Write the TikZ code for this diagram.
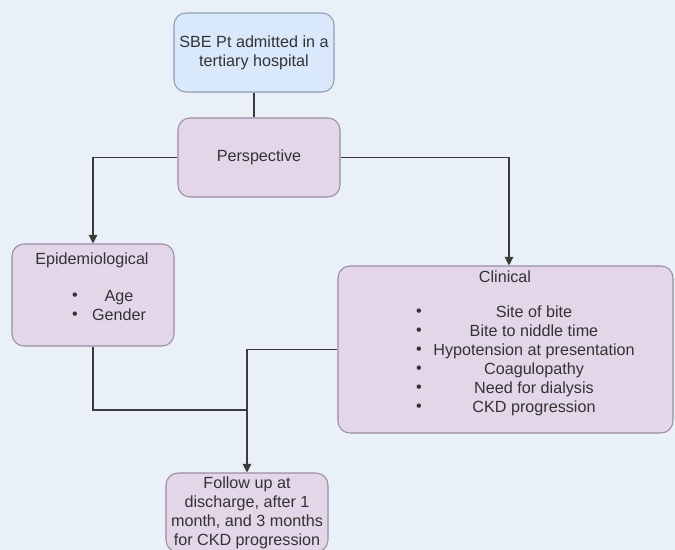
\documentclass[tikz,border=0pt]{standalone}
\usepackage{fontspec}
\setmainfont{Liberation Sans}
\usetikzlibrary{positioning, arrows.meta}

\definecolor{bgblue}{HTML}{E9F0F8}
\definecolor{boxblue}{HTML}{DAE8FC}
\definecolor{edgeblue}{HTML}{8E9DB2}
\definecolor{boxpink}{HTML}{E2D6E8}
\definecolor{edgepink}{HTML}{9C8CA4}
\definecolor{wire}{HTML}{3C3C3C}

\tikzset{
  box/.style={rectangle, rounded corners=2.4mm, draw=edgepink, fill=boxpink,
    line width=0.6pt, inner sep=0pt, align=center},
  txt/.style={inner sep=0pt, align=center,
    font=\fontsize{9.2}{10.8}\selectfont, text=black!80},
  link/.style={draw=wire, line width=0.6pt},
  arrowlink/.style={link, -{Triangle[width=1.7mm,length=1.7mm]}}
}

\begin{document}
\begin{tikzpicture}

    \fill[bgblue] (0,0) rectangle (13.5,-11);
    \useasboundingbox (0,0) rectangle (13.5,-11);

    % admission and perspective
    \node[box, txt, draw=edgeblue, fill=boxblue,
    minimum width=3.2cm,
    minimum height=1.58cm] (top) at (5.08,-1.05)
    {SBE Pt admitted in a\\tertiary hospital};

    \node[box, txt,
    minimum width=3.24cm,
    minimum height=1.58cm] (persp) at (5.18,-3.15) {Perspective};

    % epidemiological
    \node[box,
    minimum width=3.24cm,
    minimum height=2.04cm] (epi) at (1.86,-5.9) {};

    \node[txt] (epititle) at (1.84,-5.2) {Epidemiological};
    \node[txt] (epibul) at (1.5,-6.12) {\textbullet\\\textbullet};
    \node[txt] (epilist) at (2.38,-6.12) {Age\\Gender};

    % clinical
    \node[box,
    minimum width=6.7cm,
    minimum height=3.34cm] (clin) at (10.11,-6.99) {};

    \node[txt] (clintitle) at (10.1,-5.54) {Clinical};
    \node[txt] (clinbul) at (8.38,-7.21)
    {\textbullet\\\textbullet\\\textbullet\\\textbullet\\\textbullet\\\textbullet};
    \node[txt] (clinlist) at (10.68,-7.21)
    {Site of bite\\Bite to niddle time\\Hypotension at presentation\\
     Coagulopathy\\Need for dialysis\\CKD progression};

    % follow up
    \node[box, txt,
    minimum width=3.24cm,
    minimum height=1.58cm] (fol) at (4.94,-10.25)
    {Follow up at\\discharge, after 1\\month, and 3 months\\for CKD progression};

    \coordinate (join) at (fol.north |- 0,-8.2);

    \draw[link] (top.south) -- (top.south |- persp.north);
    \draw[arrowlink] (persp.west) -| (epi.north);
    \draw[arrowlink] (persp.east) -| ([xshift=0.07cm]clin.north);
    \draw[link] (epi.south) |- (join);
    \draw[arrowlink] (clin.west) -| (fol.north);

\end{tikzpicture}
\end{document}
